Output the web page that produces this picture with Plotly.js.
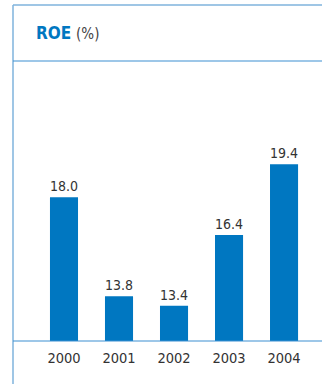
<!DOCTYPE html>
<html>
<head>
<meta charset="utf-8">
<script src="https://cdn.plot.ly/plotly-3.0.1.min.js"></script>
<style>html,body{margin:0;padding:0;background:#fff;}#chart{width:322px;height:384px;}</style>
</head>
<body>
<div id="chart"></div>
<script>
const years = ['2000', '2001', '2002', '2003', '2004'];
const roe = [18.0, 13.8, 13.4, 16.4, 19.4];

const fontFam = '"DejaVu Sans Condensed", "DejaVu Sans", sans-serif';
const lineBlue = '#7fb3dd';

const trace = {
  type: 'bar',
  x: years,
  y: roe,
  marker: {color: '#0077c1'},
  width: 0.51,
  text: roe.map(v => v.toFixed(1)),
  textposition: 'outside',
  cliponaxis: false,
  textfont: {family: fontFam, size: 14.5, color: '#333333', stretch: 'condensed'},
  hoverinfo: 'none'
};

const layout = {
  width: 322, height: 384,
  margin: {l: 13, r: 0, t: 61, b: 43},
  paper_bgcolor: '#ffffff', plot_bgcolor: '#ffffff',
  showlegend: false,
  xaxis: {
    type: 'category',
    range: [-0.927, 4.69],
    showgrid: false, zeroline: false, showline: false,
    ticks: '', ticklabelstandoff: 6,
    tickfont: {family: fontFam, size: 14.5, color: '#333333', stretch: 'condensed'}
  },
  yaxis: {
    range: [11.9, 23.78],
    visible: false, showgrid: false, zeroline: false
  },
  shapes: [
    {type: 'line', xref: 'paper', yref: 'paper', x0: 0, x1: 0, y0: -0.16, y1: 1.2, line: {color: lineBlue, width: 1.5}},
    {type: 'line', xref: 'paper', yref: 'paper', x0: 0, x1: 1, y0: 1.2, y1: 1.2, line: {color: lineBlue, width: 1.5}},
    {type: 'line', xref: 'paper', yref: 'paper', x0: 0, x1: 1, y0: 1, y1: 1, line: {color: '#3d8fd1', width: 1.2}},
    {type: 'line', xref: 'paper', yref: 'paper', x0: 0, x1: 1, y0: 0, y1: 0, line: {color: '#3d8fd1', width: 1.2}}
  ],
  annotations: [{
    xref: 'paper', yref: 'paper', x: 0.068, y: 1.1, xanchor: 'left', yanchor: 'middle',
    showarrow: false,
    text: '<b>ROE</b> <span style="color:#444444;font-size:15px;font-weight:normal">(%)</span>',
    font: {family: fontFam, size: 17, color: '#0077c1', stretch: 'condensed'}
  }]
};

Plotly.newPlot('chart', [trace], layout, {displayModeBar: false, staticPlot: true});
</script>
</body>
</html>
